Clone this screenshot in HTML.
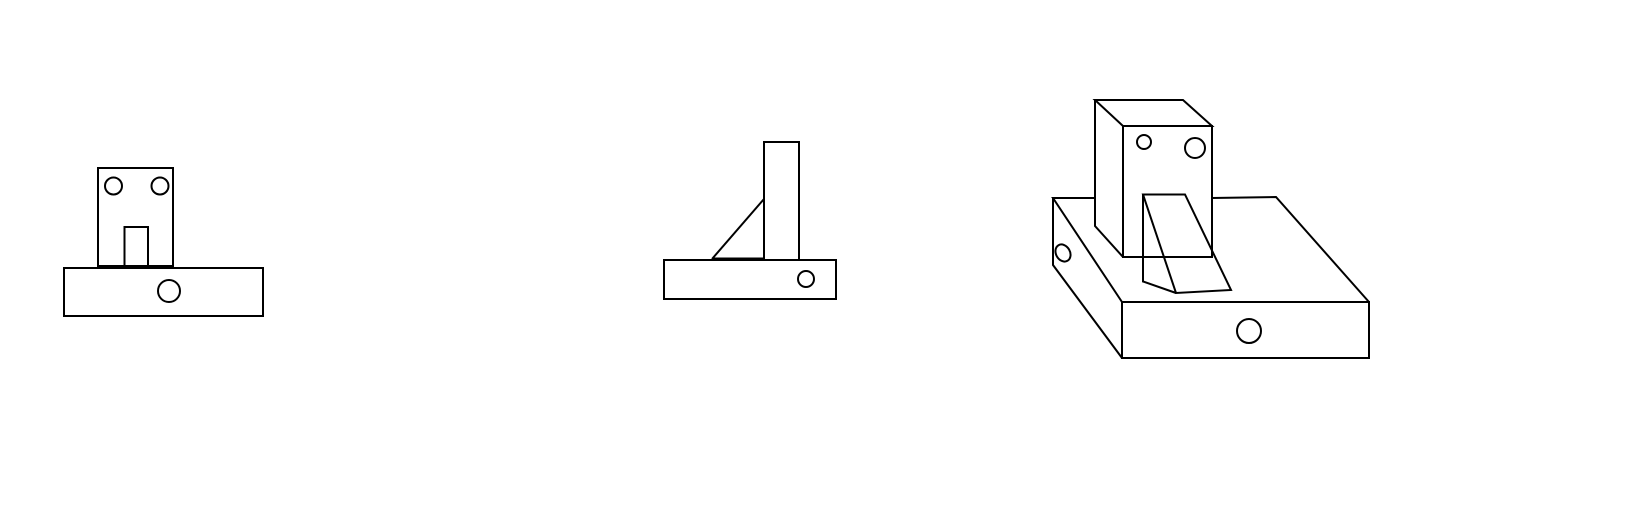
<!DOCTYPE html>
<html><head><meta charset="utf-8"><style>
html,body{margin:0;padding:0;background:#fff;width:1640px;height:520px;overflow:hidden}
svg{display:block}
</style></head><body>
<svg width="1640" height="520" viewBox="0 0 1640 520" fill="none" stroke="#000" stroke-width="2">
<g>
  <rect x="64" y="268" width="199" height="48"/>
  <rect x="98" y="168" width="75" height="99"/>
  <line x1="98" y1="266" x2="173" y2="266" stroke-width="2"/>
  <circle cx="113.5" cy="186" r="8.5"/>
  <circle cx="160" cy="186" r="8.5"/>
  <rect x="124.5" y="227" width="23.5" height="39"/>
  <circle cx="169" cy="291" r="11"/>
</g>
<g>
  <rect x="664" y="260" width="172" height="39"/>
  <rect x="764" y="142" width="35" height="118"/>
  <line x1="712" y1="259" x2="764" y2="199"/>
  <line x1="712" y1="259" x2="764" y2="259" stroke-width="3"/>
  <circle cx="806" cy="279" r="8"/>
</g>
<g>
  <rect x="1122" y="302" width="247" height="56"/>
  <polyline points="1122,302 1053,198 1095,198"/>
  <polyline points="1212,198 1276,197 1369,302"/>
  <polyline points="1053,198 1053,265 1122,358"/>
  <ellipse cx="1063" cy="253" rx="7" ry="9" transform="rotate(-30 1063 253)"/>
  <circle cx="1249" cy="331" r="12"/>
  <polygon points="1095,100 1183,100 1212,126 1123,126"/>
  <rect x="1123" y="126" width="89" height="131"/>
  <polyline points="1095,100 1095,226 1123,257"/>
  <circle cx="1144" cy="142" r="7"/>
  <circle cx="1195" cy="148" r="10"/>
  <polygon points="1143,194.5 1185,194.5 1231,290 1176,293"/>
  <polyline points="1143,194.5 1143,281.5 1176,293"/>
</g>
</svg>
</body></html>
